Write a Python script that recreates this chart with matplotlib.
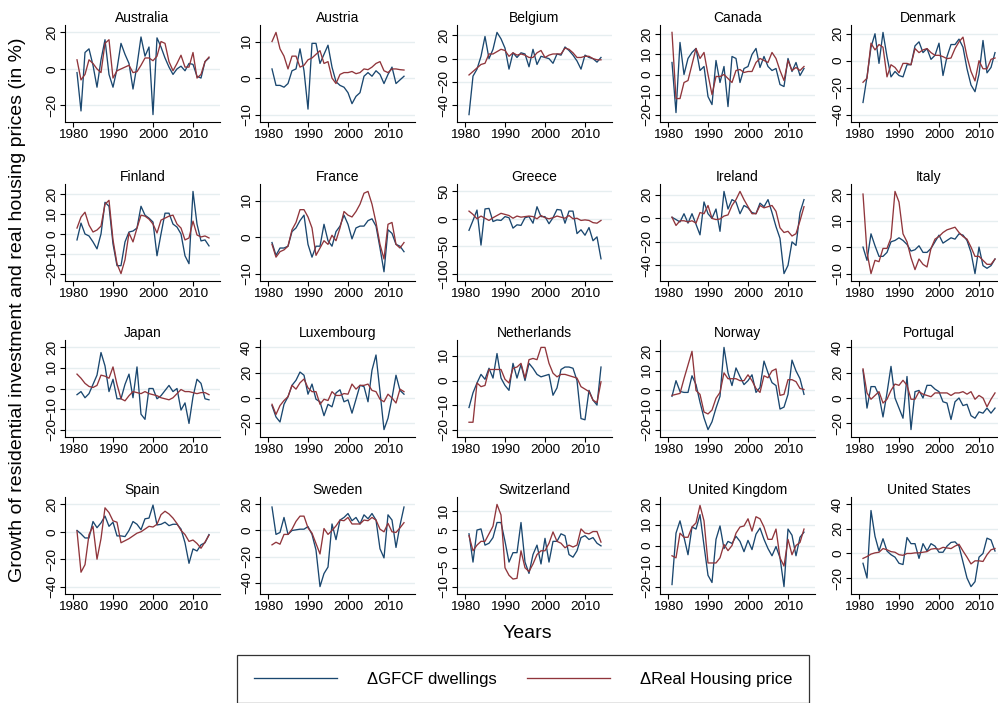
import numpy as np
import matplotlib
matplotlib.use("Agg")
import matplotlib.pyplot as plt

plt.rcParams['font.family'] = ['Liberation Sans', 'DejaVu Sans']

years = np.arange(1981, 2015)

# growth of GFCF dwellings (blue) and real house prices (red), in %
gfcf_australia = [-2, -23, 9, 11, 2, -10, 5, 16, -3, -10, 0, 14, 8, 3, -11, 2, 17.5, 7, 12, -25,
                  17, 12, 6, 1, -3, 0, 1.5, -1, 3, 2.5, -4, -5, 4, 6]
price_australia = [5, -6, -3, 5, 3, 0, -2, 14, 16, -5, -1, 0, 1, 2, -2, -1.5, 2, 6, 6, 4.5,
                   7, 15, 14, 4, -1, 3, 7.5, 1, 1, 9, -5, -3, 4, 6.5]

gfcf_austria = [2.5, -2, -2, -2.5, -1.5, 2, 2.5, 8, 2, -8.5, 9.5, 9.5, 4, 6.5, 9, 3, -1, -2, -2.5, -4,
                -7, -5, -4, 0.5, 1.5, 0.5, 2, 1, -1.5, 1, 3, -1.5, -0.5, 0.5]
price_austria = [10, 12.5, 8, 6, 2.5, 6, 6, 3, 3.5, 5, 5.5, 6.5, 7.5, 4, 4.5, 0, -1.5, 1, 1.5, 1.5,
                 1.8, 1.2, 1.5, 2.5, 2.3, 3, 4, 4.5, 2, 1.5, 2.5, 2.5, 2.3, 2.2]

gfcf_belgium = [-48, -15, -9, 2, 19, 0, 8, 22.5, 17, 9, -9, 5, 1, 5, 4, -7, 8, -5, 2, 1,
                0, -4, 4, 3, 10, 7, 3, -2, -9, 3, 1, 0, -3, 1]
price_belgium = [-14, -11, -8, -5, -4, 4, 4, 6, 8, 7, 2, 5, 3, 4, 3, 1, 1, 5, 7, 1,
                 3, 4, 4, 4, 9, 8, 5, 1, 1, 2, 2, 0, -1, -1]

gfcf_canada = [6, -19, 16, 0, 8, 11, 13, 2, 4, -11, -15, 7, -4, 4, -16, 9, 8, -4, 3, 4,
               10, 13, 3.5, 9, 4, 2, 3, -5, -6, 8, 1.5, 6, -0.5, 3]
price_canada = [21, -12, -12, -4, -3, 5, 13, 8, 11, 0, -10, -1, -1, 0, -2, -4, 2, 2.5, 1, 1.5,
                1.5, 6, 8, 7, 6, 11, 8, 2, -3, 7, 2, 3.5, 2, 4]

gfcf_denmark = [-31, -12, 10, 20, -2, 21, 3, -12, -8, -11, -12, -3, -3, 11, 14, 6, 9, 1, 4, 13,
                -11, 3, 12, 12, 16, 10, -6, -18, -23, -10, 15, -9, -5, 6]
price_denmark = [-16, -13, 13, 8, 12, 10, -12, -3, -5, -9, -2, -2, -3, 9, 6, 8, 9, 6, 4, 4,
                 3, 1.5, 2, 9, 14, 17.5, 3, -8, -15, 0, -6, -6, 1, 2]

gfcf_finland = [-3, 5.5, 0, -1, -4, -7.5, 0, 16, 14, -5, -16, -16, -4, 1, 1.5, 3, 14, 9.5, 8, 6,
                -11, 0, 10.5, 10.5, 5, 3.5, 0, -11, -15, 21.5, 5, -3.5, -3, -6]
price_finland = [3, 8.5, 11, 4.5, 1, 2, 4, 15, 17, -3, -15, -20, -13, 0.5, -4, 3, 9.5, 9, 7.5, 5,
                 0.5, 7, 8, 9, 9.5, 5, 3, -3, -2, 6.5, -0.5, -1.5, -1, -2]

gfcf_france = [-1.5, -5, -3, -3, -2.5, 1.5, 2.5, 4.5, 6, -2, -5.5, -2.5, -2.5, 3.5, -1, -2.5, 1.5, 3, 6, 3.5,
               -0.5, 2.5, 3, 3, 4.5, 5, 3, -3, -9.5, 2, 1, -2, -2.5, -4]
price_france = [-2, -5.5, -4, -3.5, -2.5, 2, 4, 7.5, 7.5, 5.5, 2.5, -5, -3, -1, -2, 0.5, -1, 2.5, 7, 6,
                5.5, 7, 9, 12, 12.5, 9, 4, -2, -6, 3.5, 4, -2, -3, -1.5]

gfcf_greece = [-21, -3, 16, -48, 18, 19, -5, -2, -3, 4, 2, -17, -11, -12, 2, 4, -8, 22, 4, 4,
               -9, 2, 17, 16, -8, 14, 14, -27, -20, -30, -16, -40, -33, -73]
price_greece = [14, 8, 0, 5, 1, -3, 2, 6, 10, 8, 6, 1, 5, 3, 4, 5, 4, 0, 6, 2,
                0, 2, 5, 3, 1, 6, 0, 1, -3, -2, -3, -7, -8, -3]

gfcf_ireland = [1, -1, -3, 4, -4, 4, -5, -14, 14, 4, 0, 8, -11, 23, 8, 16, 14, 4, 11, 9,
                5, 4, 13, 10, 16, 5, -7, -17, -47, -40, -20, -23, 5, 16]
price_ireland = [1, -6, -2, -2, -3, -2, -4, 5, 4, 11, 0, -1, -0.5, 2, 3, 11, 16, 23, 16, 10,
                 4, 4, 11, 9, 10, 11, 6, -8, -12, -11, -15, -13, -2, 10]

gfcf_italy = [0, -5, 5, 0.5, -3.5, -3.5, -2, 2, 2.5, 3.5, 2.5, 1, -1.5, -1, 0.5, -2, -2, -0.5, 2, 4.5,
              1.5, 2.5, 3.5, 3, 5, 4.5, 2.5, -2, -10, 0, -7, -8, -7, -4.5]
price_italy = [20, -2, -10, -5, -5.5, -0.5, -0.5, 3.5, 21, 17, 5, 2, -4, -8.5, -4.5, -6.5, -7.5, -0.5, 3, 4,
               5.5, 6.5, 7, 7.5, 5.5, 4, 3, 0, -3.5, -3.5, -5, -6.5, -6.5, -4.5]

gfcf_japan = [-3, -1.5, -4.5, -2.5, 2, 6.5, 17.5, 11, -1.5, 4.5, -5, -5, 2, 7, -4.5, 10.5, -12.5, -15, 0, 0,
              -5, -3.5, -1, 1.5, -1.5, 0, -10.5, -7, -17, -4, 4.5, 2.5, -5, -5.5]
price_japan = [7, 5, 2.5, 1, 0.5, 1.5, 6.5, 6, 5, 10.5, 2, -5, -6, -3.5, -1.5, -2, -2.5, -1.5, -2.5, -3,
               -3.5, -4.5, -5, -5.5, -4.5, -2.5, -0.5, -1.5, -1.5, -2, -2.5, -2, -2, -3]

gfcf_luxembourg = [-6, -15, -19, -5, 1, 10, 14, 20.5, 18, 3, 11, -1, -3, -14, -5, -7, 4, 6.5, -3, -1.5,
                   -12, -1, 10, 9, -3, 22, 34, 5, -25, -16, 0, 18, 6, 3]
price_luxembourg = [-5, -13, -6, -2, 1, 10, 7, 12, 15, 8, 5, 5, -5, -1, -2, 5, 2, 2, 3.5, 3,
                    11, 7, 10, 10, 11, 6, 5, -1, -3, 3, 0, -4, 7, 5]

gfcf_netherlands = [-11, -5, -1, 2.5, 0.5, 5, 1, 11, 1, -2, -4, 7, 1, 6.5, 0, 7, 5, 2.5, 1.5, 2,
                    2.5, -6, -3, 4.5, 5.5, 5.5, 5, 0, -15.5, -16, -4, -8, -10, 5.5]
price_netherlands = [-17, -17, -1, -2.5, -2, 4.5, 4.5, 4.5, 4.5, 0.5, -1, 5, 5.5, 7, 1, 8.5, 9, 8.5, 13.5, 13.5,
                     7, 3, 1.5, 2.5, 2.5, 2, 1.5, 1, -2.5, -3.5, -4.5, -8, -9, -0.5]

gfcf_norway = [-3, 5, -0.5, -1, -1, 7.5, 3, -6, -14, -20, -16, -9, -3, 22, 9, 2.5, 11.5, 7, 3, 5,
               8, -1, 1.5, 15, 9, 4, 2.5, -9.5, -8.5, -2, 15.5, 10, 6, -2]
price_norway = [-2.5, -2, -1.5, 6, 13, 20, 0, -2, -11, -12, -10, -4, -1, 9, 6, 6, 6, 5, 5, 8,
                5, 1, -1, 7.5, 6.5, 10, 11, -2.5, -2, 5.5, 5.5, 4.5, 1, 0.5]

gfcf_portugal = [22, -8, 9, 9, 2, -15, 4, 25, 0, -8, -16, 17, -25, 5, 6, 0, 10, 10, 7, 5,
                 -3, -4, -17, -3, 0, -6, -5, -14, -16, -11, -12, -8, -12, -8]
price_portugal = [23, 4, -1, 2, 5, -4, -1, 6, 11, 10, 14, 10, -1, -1, 5, 3, 2, 1, 4, 4,
                  4, 4, 2, 4, 4, 5, 3, 5, -1, 2, 0, -7, -1, 4]

gfcf_spain = [1, -1.5, -4.5, -4.5, 7.5, 3, 6.5, 11.5, 4, 7, -3, -3, -3.5, 1, 7.5, 5.5, 1.5, 9.5, 10, 19.5,
              5, 5.5, 7, 4.5, 5.5, 5.5, 2, -8, -23, -12.5, -14, -9.5, -8, -2]
price_spain = [0.5, -29.5, -24, -2, 4, -20, -5, 17.5, 14, 8, 7, -8, -6.5, -5, -3, -1, 0, 2, 4, 3.5,
               5.5, 12.5, 15, 13, 10, 6, 1, -2, -7, -6, -8.5, -12, -7.5, -2.5]

gfcf_sweden = [18, -3, -1.5, 10, -3, 0, 0.5, 1, 1, 3, -3, -15, -43, -33, -28, 5, -7, 8, 10, 13,
               7.5, 10, 5, 12, 9, 13, 8, -14, -21, 12, 8, -13, 4, 18]
price_sweden = [-11, -9, -10.5, -3, -3, 1, 7, 11, 11, 2, -2, -10, -18, 1.5, -3, 0, 3.5, 8, 7.5, 10,
                5, 5, 5, 8, 7.5, 10, 8, 1, -1, 5.5, -1, -1.5, 2, 6]

gfcf_switzerland = [4, -3.5, 5, 5.3, 1, 1.5, 3, 7, 7, 2, -3.5, -1, -1, 7, -3.5, -6.5, -1.5, 1, -4, 2.8,
                    -3.5, 2, 2, 4, 3.5, -1.5, -2.2, -0.5, 3, 3.5, 2.5, 3, 1.5, 0.8]
price_switzerland = [3.5, -0.5, 1, 2, 2, 4, 6, 11.8, 9, -5, -7, -8, -7.8, -0.5, -5, -6, -4, -1.5, -0.5, -0.5,
                     1.5, 4.5, 2, 1.5, 0.3, 1, 0.5, 1, 5.3, 4.2, 4, 4.6, 4.6, 1.8]

gfcf_uk = [-19, 6, 12, 4, -4.5, 9, 8, 15, 0, -14.5, -18, 3, 9.5, -1.5, 2, 1, 4.5, 2, -3, 2.5,
           -2, 5.5, 8.5, 3, -1.5, -5, -0.5, -6, -20, 8, 5, -5, 4, 6.5]
price_uk = [-5, -6, 6, 4, 4, 9, 11, 19.5, 12, -8.5, -8.5, -8.5, -6, 0.5, -2.5, 0, 6, 9, 9.5, 13,
            7, 14, 13, 9, 3, 3, 8, -6, -10, 3, -4.5, 0, 1.5, 8]

gfcf_us = [-8, -20, 35, 14, 2, 12, 2, -1, -3, -8, -9, 13, 8, 8, -4, 8, 2, 8, 6, 1,
           1, 6, 9, 9.5, 6, -7, -20, -27, -23, -3, 0, 12.5, 11, 2]
price_us = [-4, -2.5, -0.5, 0.5, 1, 4, 3, 1.5, 1, -1, -1.5, 0, 0, 0.5, 0.5, 1, 1.5, 3.5, 4, 3.5,
            5, 4.5, 4, 6, 7.5, 2, -3, -8.5, -6, -6, -6.5, -1, 3, 4]

panels = [
    ("Australia", gfcf_australia, price_australia, [-20, 0, 20]),
    ("Austria", gfcf_austria, price_austria, [-10, 0, 10]),
    ("Belgium", gfcf_belgium, price_belgium, [-40, -20, 0, 20]),
    ("Canada", gfcf_canada, price_canada, [-20, -10, 0, 10, 20]),
    ("Denmark", gfcf_denmark, price_denmark, [-40, -20, 0, 20]),
    ("Finland", gfcf_finland, price_finland, [-20, -10, 0, 10, 20]),
    ("France", gfcf_france, price_france, [-10, 0, 10]),
    ("Greece", gfcf_greece, price_greece, [-100, -50, 0, 50]),
    ("Ireland", gfcf_ireland, price_ireland, [-40, -20, 0, 20]),
    ("Italy", gfcf_italy, price_italy, [-10, 0, 10, 20]),
    ("Japan", gfcf_japan, price_japan, [-20, -10, 0, 10, 20]),
    ("Luxembourg", gfcf_luxembourg, price_luxembourg, [-20, 0, 20, 40]),
    ("Netherlands", gfcf_netherlands, price_netherlands, [-20, -10, 0, 10]),
    ("Norway", gfcf_norway, price_norway, [-20, -10, 0, 10, 20]),
    ("Portugal", gfcf_portugal, price_portugal, [-20, 0, 20, 40]),
    ("Spain", gfcf_spain, price_spain, [-40, -20, 0, 20]),
    ("Sweden", gfcf_sweden, price_sweden, [-40, -20, 0, 20]),
    ("Switzerland", gfcf_switzerland, price_switzerland, [-10, -5, 0, 5, 10]),
    ("United Kingdom", gfcf_uk, price_uk, [-20, -10, 0, 10, 20]),
    ("United States", gfcf_us, price_us, [-20, 0, 20, 40]),
]

navy = '#1a476f'
maroon = '#90353b'
grid_col = '#e6eef0'

W, H = 998, 703
fig = plt.figure(figsize=(W / 100, H / 100), dpi=100)

# panel grid in pixels
col_left = [65, 260, 457, 660, 851]
row_top = [25, 184, 340, 497]
ax_w, ax_h = 155, 97

for i, (name, gfcf, price, yt) in enumerate(panels):
    r, c = divmod(i, 5)
    ax = fig.add_axes([col_left[c] / W, 1 - (row_top[r] + ax_h) / H, ax_w / W, ax_h / H])
    l1, = ax.plot(years, gfcf, color=navy, lw=0.95)
    l2, = ax.plot(years, price, color=maroon, lw=0.95)

    lo = min(min(gfcf), min(price), yt[0])
    hi = max(max(gfcf), max(price), yt[-1])
    pad = 0.09 * (hi - lo)
    ax.set_ylim(lo - pad, hi + pad)
    ax.set_xlim(1978, 2016.75)
    ax.set_xticks([1980, 1990, 2000, 2010])
    ax.set_yticks(yt)

    ax.yaxis.grid(True, color=grid_col, lw=1.0)
    ax.set_axisbelow(True)
    for s in ['top', 'right']:
        ax.spines[s].set_visible(False)
    for s in ['left', 'bottom']:
        ax.spines[s].set_linewidth(0.8)
    ax.tick_params(direction='out', length=3.5, width=0.8, labelsize=9.7, pad=1.5)
    for lbl in ax.get_yticklabels():
        lbl.set_rotation(90)
        lbl.set_va('center')
    ax.set_title(name, fontsize=10, pad=2.5)

fig.text(18 / W, 1 - 310 / H, 'Growth of residential investment and real housing prices (in %)',
         rotation=90, ha='center', va='center', fontsize=14)
fig.text(527 / W, 1 - 633 / H, 'Years', ha='center', va='center', fontsize=14)

leg = fig.legend([l1, l2], ['\u0394GFCF dwellings', '\u0394Real Housing price'],
                 loc='upper center', bbox_to_anchor=(523 / W, 1 - 655 / H), ncol=2,
                 fontsize=12, frameon=True, fancybox=False, edgecolor='black',
                 handlelength=5.0, handletextpad=1.8, columnspacing=1.8, borderpad=1.0,
                 borderaxespad=0)
leg.get_frame().set_linewidth(0.9)

fig.savefig('out.png', dpi=100)
